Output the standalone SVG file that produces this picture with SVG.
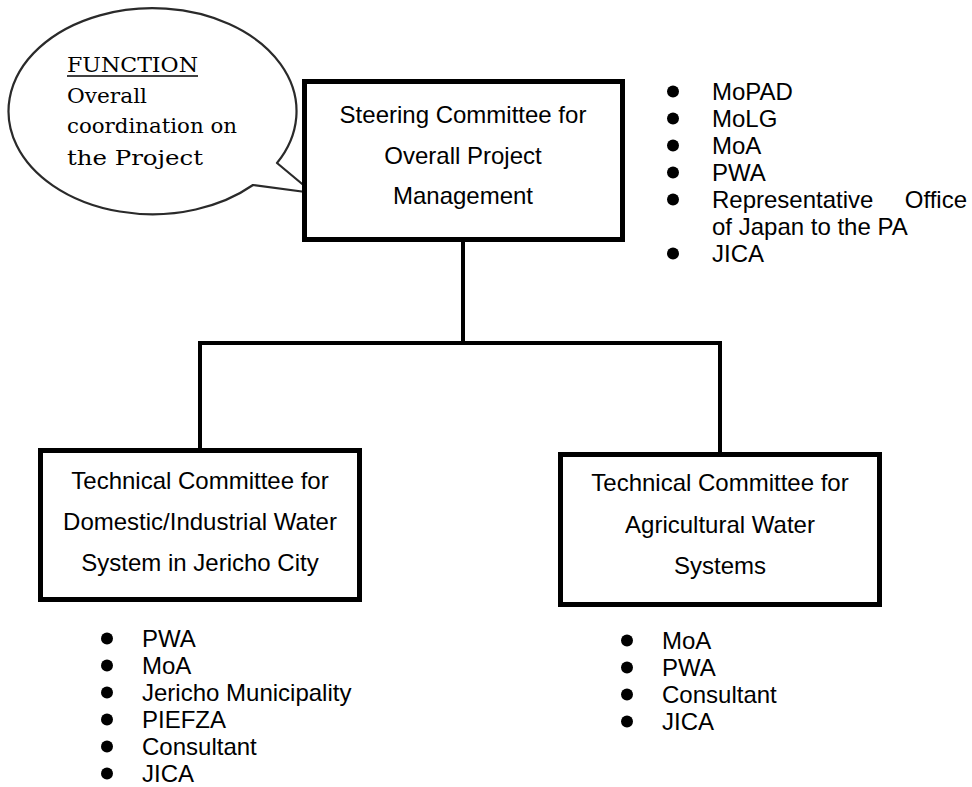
<svg xmlns="http://www.w3.org/2000/svg" width="972" height="787" viewBox="0 0 972 787">
  <style>
    .box { fill: #ffffff; stroke: #000000; stroke-width: 5; }
    .boxb { fill: none; stroke: #111111; stroke-width: 3; }
    .lbl { font-family: "Liberation Sans", Arial, sans-serif; font-size: 24px; fill: #000000; text-anchor: middle; }
    .li { font-family: "Liberation Sans", Arial, sans-serif; font-size: 24px; fill: #000000; }
    .bul { fill: #000000; }
    .conn { fill: none; stroke: #000000; stroke-width: 4; }
    .bub { fill: #ffffff; stroke: #2a2a2a; stroke-width: 2.2; stroke-linejoin: round; }
    .bt { font-family: "DejaVu Serif", "Liberation Serif", serif; font-size: 20px; fill: #000000; }
  </style>

  <g id="connectors">
    <path class="conn" d="M463,242 V343"/>
    <path class="conn" d="M200,448 V343 H720 V452"/>
  </g>

  <g id="callout">
    <path class="bub" d="M277,163 A144 103 0 1 0 253,185 L313,193 Z"/>
    <text class="bt" x="67" y="72" textLength="131" lengthAdjust="spacingAndGlyphs">FUNCTION</text>
    <line x1="67" y1="76" x2="198" y2="76" stroke="#000" stroke-width="1.5"/>
    <text class="bt" x="67" y="103" textLength="80" lengthAdjust="spacingAndGlyphs">Overall</text>
    <text class="bt" x="67" y="133" textLength="170" lengthAdjust="spacingAndGlyphs">coordination on</text>
    <text class="bt" x="67" y="165" textLength="136" lengthAdjust="spacingAndGlyphs">the Project</text>
  </g>

  <g id="steering">
    <rect class="box" x="304.5" y="81.5" width="318" height="158"/>
    <text class="lbl" x="463" y="123">Steering Committee for</text>
    <text class="lbl" x="463" y="164">Overall Project</text>
    <text class="lbl" x="463" y="204">Management</text>
  </g>

  <g id="steering-members">
    <circle class="bul" cx="673" cy="91.5" r="6"/>
    <text class="li" x="712" y="100">MoPAD</text>
    <circle class="bul" cx="673" cy="118.5" r="6"/>
    <text class="li" x="712" y="127">MoLG</text>
    <circle class="bul" cx="673" cy="145.5" r="6"/>
    <text class="li" x="712" y="154">MoA</text>
    <circle class="bul" cx="673" cy="172.5" r="6"/>
    <text class="li" x="712" y="181">PWA</text>
    <circle class="bul" cx="673" cy="199.5" r="6"/>
    <text class="li" x="712" y="208">Representative</text>
    <text class="li" x="967" y="208" text-anchor="end">Office</text>
    <text class="li" x="712" y="235">of Japan to the PA</text>
    <circle class="bul" cx="673" cy="253.5" r="6"/>
    <text class="li" x="712" y="262">JICA</text>
  </g>

  <g id="tech-domestic">
    <rect class="box" x="40.5" y="450.5" width="319" height="149"/>
    <text class="lbl" x="200" y="489">Technical Committee for</text>
    <text class="lbl" x="200" y="530">Domestic/Industrial Water</text>
    <text class="lbl" x="200" y="571">System in Jericho City</text>
  </g>

  <g id="tech-domestic-members">
    <circle class="bul" cx="107" cy="638.5" r="6"/>
    <text class="li" x="142" y="647">PWA</text>
    <circle class="bul" cx="107" cy="665.5" r="6"/>
    <text class="li" x="142" y="674">MoA</text>
    <circle class="bul" cx="107" cy="692.5" r="6"/>
    <text class="li" x="142" y="701">Jericho Municipality</text>
    <circle class="bul" cx="107" cy="719.5" r="6"/>
    <text class="li" x="142" y="728">PIEFZA</text>
    <circle class="bul" cx="107" cy="746.5" r="6"/>
    <text class="li" x="142" y="755">Consultant</text>
    <circle class="bul" cx="107" cy="773.5" r="6"/>
    <text class="li" x="142" y="782">JICA</text>
  </g>

  <g id="tech-agricultural">
    <rect class="box" x="560.5" y="454.5" width="319" height="150"/>
    <text class="lbl" x="720" y="491">Technical Committee for</text>
    <text class="lbl" x="720" y="533">Agricultural Water</text>
    <text class="lbl" x="720" y="574">Systems</text>
  </g>

  <g id="tech-agricultural-members">
    <circle class="bul" cx="627" cy="640.5" r="6"/>
    <text class="li" x="662" y="649">MoA</text>
    <circle class="bul" cx="627" cy="667.5" r="6"/>
    <text class="li" x="662" y="676">PWA</text>
    <circle class="bul" cx="627" cy="694.5" r="6"/>
    <text class="li" x="662" y="703">Consultant</text>
    <circle class="bul" cx="627" cy="721.5" r="6"/>
    <text class="li" x="662" y="730">JICA</text>
  </g>
</svg>
